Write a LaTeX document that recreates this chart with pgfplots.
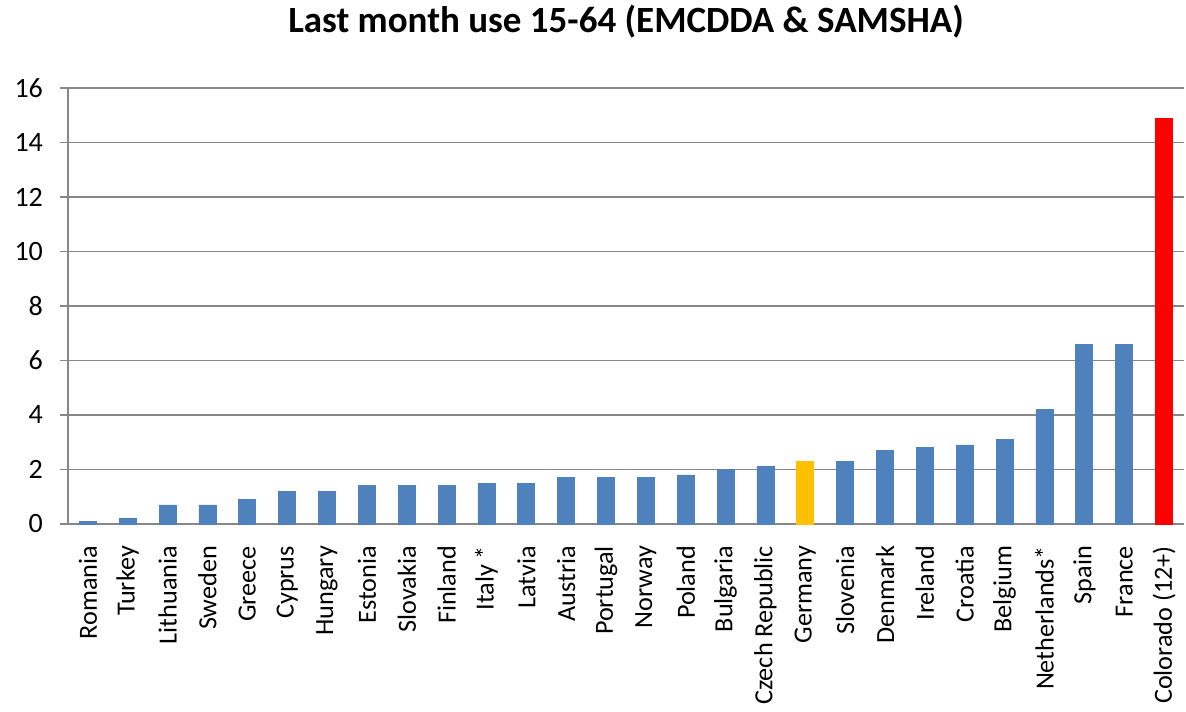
\documentclass[border=0pt]{standalone}
\usepackage{fontspec}
\setmainfont{Carlito}
\usepackage{pgfplots}
\pgfplotsset{compat=1.18}
\definecolor{barblue}{HTML}{4F81BD}
\definecolor{bargold}{HTML}{FFC000}
\definecolor{barred}{HTML}{FF0000}
\definecolor{gridgray}{HTML}{878787}
\begin{document}
\begin{tikzpicture}
\begin{axis}[
  scale only axis, width=558pt, height=218pt,
  ymin=0, ymax=16, ytick={0,2,...,16},
  xmin=-0.5, xmax=27.5,
  axis x line*=bottom, axis y line*=left,
  axis line style={gridgray, line width=0.8pt},
  ymajorgrids=true, grid style={gridgray, line width=0.8pt},
  tick style={gridgray, line width=0.8pt},
  tick align=outside,
  major tick length=4pt, minor tick length=4pt,
  xtick={0,...,27},
  x tick style={draw=none},
  minor xtick={-0.5,0.5,...,27.5},
  xticklabels={Romania,Turkey,Lithuania,Sweden,Greece,Cyprus,Hungary,Estonia,Slovakia,Finland,Italy *,Latvia,Austria,Portugal,Norway,Poland,Bulgaria,Czech Republic,Germany,Slovenia,Denmark,Ireland,Croatia,Belgium,Netherlands*,Spain,France,Colorado (12+)},
  xticklabel style={yshift=-3.5pt, rotate=90, anchor=east, font=\fontsize{13.1}{15}\selectfont},
  yticklabel style={xshift=-5pt, font=\fontsize{14}{16}\selectfont},
  /pgf/number format/assume math mode=true,
  ybar, bar width=8.5pt, bar shift=0pt,
  clip=false,
]
\addplot[fill=barblue, draw=barblue] coordinates {
  (0,0.1) (1,0.2) (2,0.7) (3,0.7) (4,0.9) (5,1.2) (6,1.2) (7,1.4) (8,1.4)
  (9,1.4) (10,1.5) (11,1.5) (12,1.7) (13,1.7) (14,1.7) (15,1.8) (16,2.0)
  (17,2.1) (19,2.3) (20,2.7) (21,2.8) (22,2.9) (23,3.1) (24,4.2) (25,6.6)
  (26,6.6)};
\addplot[fill=bargold, draw=bargold] coordinates {(18,2.3)};
\addplot[fill=barred, draw=barred] coordinates {(27,14.9)};
\node[anchor=base, inner sep=0pt, font=\fontsize{18.5}{22}\selectfont\bfseries]
  at (rel axis cs:0.5,1) [yshift=27.5pt] {Last month use 15-64 (EMCDDA \& SAMSHA)};
\coordinate (bl) at (rel axis cs:-0.0609,-0.408);
\coordinate (tr) at (rel axis cs:1.0018,1.2018);
\end{axis}
\path (bl) rectangle (tr);
\end{tikzpicture}
\end{document}
